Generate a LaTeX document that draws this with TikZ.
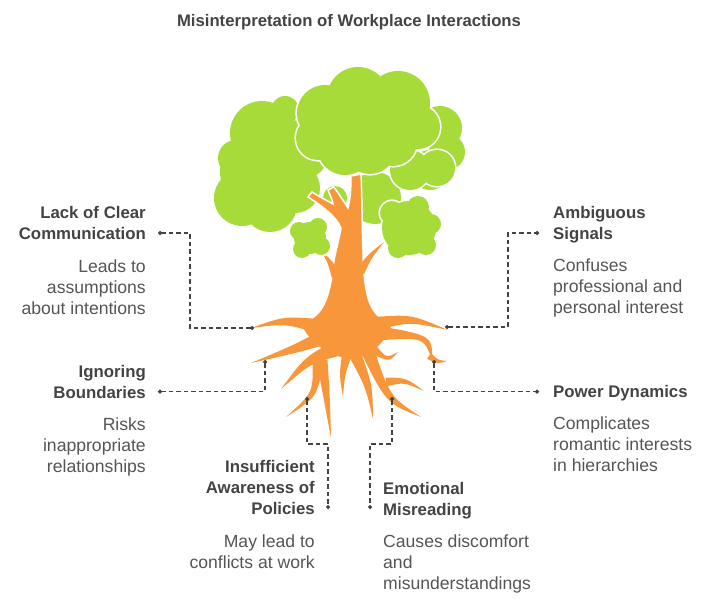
\documentclass[tikz,border=0pt]{standalone}
\usepackage{fontspec}
\setmainfont{Liberation Sans}
\usetikzlibrary{calc,positioning,arrows.meta}
\definecolor{leaf}{HTML}{A6DB3A}
\definecolor{bark}{HTML}{F7963B}
\definecolor{ink}{HTML}{434343}
\definecolor{inksoft}{HTML}{555555}

\newcommand{\leafgroup}[1]{%
  \foreach \cx/\cy/\r in {#1} {\fill[white] (\cx,\cy) circle[radius=\r+1.6];}
  \foreach \cx/\cy/\r in {#1} {\fill[leaf] (\cx,\cy) circle[radius=\r];}}
\newcommand{\rootarm}[4]{%
  \fill[bark] ($(#1)!#4!90:(#2)$) .. controls ($(#2)!0.55*#4!90:(#3)$) .. (#3)
    .. controls ($(#2)!0.55*#4!-90:(#3)$) .. ($(#1)!#4!-90:(#2)$) -- cycle;}

\begin{document}
\begin{tikzpicture}[x=1pt,y=-1pt]
  \tikzset{head/.style={font=\fontsize{16.8}{21}\selectfont\bfseries,text=ink,inner sep=0pt},
    note/.style={font=\fontsize{17.6}{21}\selectfont,text=inksoft,inner sep=0pt},
    link/.style={draw=ink,line width=1.2pt,dash pattern=on 4.5pt off 3pt,
      {Circle[length=4pt]}-{Circle[length=4pt]}}}
  \useasboundingbox (0,0) rectangle (720,604);
  \node[font=\fontsize{16.7}{20}\selectfont\bfseries,text=ink,anchor=base,inner sep=0pt]
    (title) at (349,26.7) {Misinterpretation of Workplace Interactions};

  % canopy behind the trunk
  \leafgroup{262/133/32,250/172/30,242/198/28,270/205/27,295/188/25,300/150/30,
    236/158/18,285/110/14,375/198/26,335/198/12}
  \leafgroup{440/128/22,447/152/18,430/170/20}
  \leafgroup{410/170/20,437/168/18}

  % trunk
  \filldraw[fill=bark,draw=white,line width=1.5pt] (308,197)
    .. controls (322,206) and (336,216) .. (341,228)
    .. controls (338,245) and (334,256) .. (333,268)
    .. controls (331,285) and (328,298) .. (322,308)
    .. controls (318,314) and (313,318) .. (308,321)
    -- (318,340) -- (378,340) -- (386,322)
    .. controls (380,318) and (372,312) .. (368,298)
    .. controls (364,282) and (363,265) .. (363,250)
    .. controls (362,225) and (362,195) .. (361,174)
    -- (351,176)
    .. controls (351,190) and (350,200) .. (348,208)
    .. controls (343,200) and (338,193) .. (334,187)
    -- (328,190)
    .. controls (330,195) and (332,199) .. (333,204)
    .. controls (326,200) and (318,196) .. (312,192) -- cycle;
  \rootarm{336,276}{330,262}{322,252}{4.5pt}
  \rootarm{360,272}{370,256}{384,242}{4.5pt}

  % roots
  \fill[bark] (300,322) .. controls (312,348) and (335,358) .. (350,358)
    .. controls (367,358) and (384,346) .. (392,324) -- cycle;
  \rootarm{318,326}{285,320}{251,328}{7pt}
  \rootarm{320,339}{292,350}{251,363}{7pt}
  \rootarm{332,342}{315,341}{302,351}{5pt}
  \rootarm{338,348}{308,360}{281,389}{8pt}
  \rootarm{318,362}{315,395}{286,417}{5.5pt}
  \rootarm{322,360}{327,400}{331,438}{5.5pt}
  \rootarm{347,354}{342,375}{343,397}{5pt}
  \rootarm{354,352}{369,386}{373,419}{6.5pt}
  \rootarm{366,347}{388,400}{421,417}{7pt}
  \rootarm{386,382}{405,380}{424,391}{4.5pt}
  \rootarm{374,350}{388,360}{398,352}{4.5pt}
  \rootarm{372,333}{428,336}{432,360}{8pt}
  \rootarm{429,356}{438,362}{447,361}{3.5pt}
  \rootarm{374,324}{410,318}{448,330}{7pt}

  % canopy in front
  \leafgroup{325/113/28,358/98/31,398/103/32,418/127/22,345/147/28,393/142/24,
    318/138/22,370/148/26}
  \leafgroup{409/228/27,392/213/12,418/207/11,431/224/10,426/245/10,398/248/10}
  \leafgroup{310/238/16,299/231/9,318/227/9,321/246/9,302/249/9}

  % labels
  \node[head,align=right,anchor=north east] (lack) at (146,206.5) {Lack of Clear\\Communication};
  \node[note,align=right,anchor=north east] (lackText) at (146,259.5) {Leads to\\assumptions\\about intentions};
  \node[head,align=right,anchor=north east] (ignore) at (146,365.5) {Ignoring\\Boundaries};
  \node[note,align=right,anchor=north east] (ignoreText) at (146,417.5) {Risks\\inappropriate\\relationships};
  \node[head,align=left,anchor=north west] (ambig) at (553,206.5) {Ambiguous\\Signals};
  \node[note,align=left,anchor=north west] (ambigText) at (553,258.5) {Confuses\\professional and\\personal interest};
  \node[head,align=left,anchor=north west] (power) at (553,385.5) {Power Dynamics};
  \node[note,align=left,anchor=north west] (powerText) at (553,416.5) {Complicates\\romantic interests\\in hierarchies};
  \node[head,align=right,anchor=north east] (policy) at (315,460.5) {Insufficient\\Awareness of\\Policies};
  \node[note,align=right,anchor=north east] (policyText) at (315,534.5) {May lead to\\conflicts at work};
  \node[head,align=left,anchor=north west] (emotion) at (383,481.8) {Emotional\\Misreading};
  \node[note,align=left,anchor=north west] (emotionText) at (383,534.5) {Causes discomfort\\and\\misunderstandings};

  % connectors
  \coordinate (lackRoot) at (254,328);   \coordinate (lackPin) at (158,233);
  \coordinate (ignoreRoot) at (265,360); \coordinate (ignorePin) at (158,391.7);
  \coordinate (ambigRoot) at (445,327);  \coordinate (ambigPin) at (539,233);
  \coordinate (powerRoot) at (434,360);  \coordinate (powerPin) at (539,391.7);
  \coordinate (policyRoot) at (307,397); \coordinate (policyPin) at (328,509);
  \coordinate (emotionRoot) at (392,397);\coordinate (emotionPin) at (370,509);
  \draw[link] (lackRoot) -| ($(lackPin)+(32,0)$) -- (lackPin);
  \draw[link] (ignoreRoot) |- (ignorePin);
  \draw[link] (ambigRoot) -| ($(ambigPin)+(-31,0)$) -- (ambigPin);
  \draw[link] (powerRoot) |- (powerPin);
  \draw[link] (policyRoot) |- ($(policyPin)+(0,-65)$) -- (policyPin);
  \draw[link] (emotionRoot) |- ($(emotionPin)+(0,-65)$) -- (emotionPin);
\end{tikzpicture}
\end{document}
